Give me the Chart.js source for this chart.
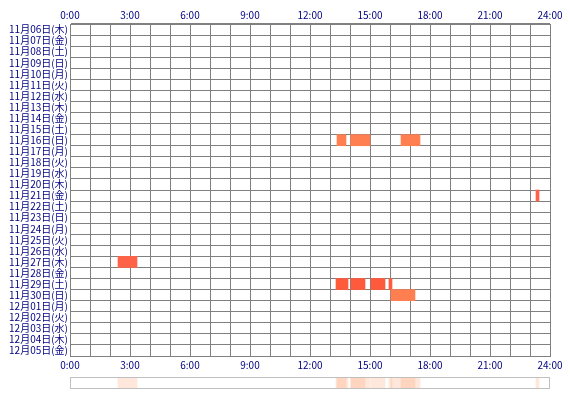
<!DOCTYPE html>
<html>
<head>
<meta charset="utf-8">
<script src="https://cdn.jsdelivr.net/npm/chart.js@4"></script>
<style>
  body { margin: 0; background: #fff; }
  #main { position: absolute; left: 0; top: 0; width: 570px; height: 372px; }
  #strip { position: absolute; left: 0; top: 372px; width: 570px; height: 24px; }
</style>
</head>
<body>
<div id="main"><canvas id="chart"></canvas></div>
<div id="strip"><canvas id="sum"></canvas></div>
<script>
// days shown on the y axis
const days = [
    '11月06日(木)', '11月07日(金)', '11月08日(土)', '11月09日(日)', '11月10日(月)',
    '11月11日(火)', '11月12日(水)', '11月13日(木)', '11月14日(金)', '11月15日(土)',
    '11月16日(日)', '11月17日(月)', '11月18日(火)', '11月19日(水)', '11月20日(木)',
    '11月21日(金)', '11月22日(土)', '11月23日(日)', '11月24日(月)', '11月25日(火)',
    '11月26日(水)', '11月27日(木)', '11月28日(金)', '11月29日(土)', '11月30日(日)',
    '12月01日(月)', '12月02日(火)', '12月03日(水)', '12月04日(木)', '12月05日(金)'
];

// activity sessions (hours of day)
const sessionDay   = ['11月16日(日)', '11月16日(日)', '11月16日(日)', '11月21日(金)', '11月27日(木)',
                      '11月29日(土)', '11月29日(土)', '11月29日(土)', '11月29日(土)', '11月30日(日)'];
const sessionStart = [13.35, 14.03, 16.55, 23.3, 2.4, 13.3, 14.05, 15.05, 15.95, 16.05];
const sessionEnd   = [13.8, 15.0, 17.5, 23.45, 3.35, 13.9, 14.75, 15.75, 16.1, 17.25];
const sessionColor = ['#ff7f50', '#ff7f50', '#ff7f50', '#ff6347', '#ff6347',
                      '#ff5a3c', '#ff5a3c', '#ff5a3c', '#ff5a3c', '#ff7f50'];

const hourTicks = ['0:00', '3:00', '6:00', '9:00', '12:00', '15:00', '18:00', '21:00', '24:00'];

const font = { family: "'Noto Sans CJK JP', sans-serif", size: 10 };
const hourLabel = v => (v % 3 === 0 ? hourTicks[v / 3] : '');

function hourAxis(position) {
    return {
        type: 'linear', position: position, min: 0, max: 24,
        ticks: { stepSize: 1, autoSkip: false, maxRotation: 0, color: '#000080', font: font, padding: 3, callback: hourLabel },
        grid: { color: '#808080', drawTicks: false, display: position === 'bottom' },
        border: { color: '#808080' },
        afterFit: s => { s.height = position === 'top' ? 18 : 16; }
    };
}

new Chart(document.getElementById('chart'), {
    type: 'bar',
    data: {
        labels: days,
        datasets: [{
            data: sessionDay.map((d, i) => ({ y: d, x: [sessionStart[i], sessionEnd[i]] })),
            backgroundColor: sessionColor,
            barPercentage: 1,
            categoryPercentage: 1
        }]
    },
    options: {
        indexAxis: 'y',
        responsive: true,
        maintainAspectRatio: false,
        animation: false,
        layout: { padding: { left: 4, right: 20, top: 6, bottom: 0 } },
        plugins: { legend: { display: false }, tooltip: { enabled: false } },
        scales: {
            x: hourAxis('bottom'),
            x2: hourAxis('top'),
            y: {
                ticks: { color: '#000080', font: font, padding: 2, autoSkip: false },
                grid: { color: '#808080', drawTicks: false },
                border: { color: '#808080' },
                afterFit: s => { s.width = 66; }
            }
        }
    }
});

// bottom strip: all sessions overlaid with low opacity
new Chart(document.getElementById('sum'), {
    type: 'bar',
    data: {
        labels: ['all'],
        datasets: sessionStart.map((s, i) => ({
            data: [[s, sessionEnd[i]]],
            backgroundColor: 'rgba(255,160,110,0.25)',
            barPercentage: 1,
            categoryPercentage: 1,
            grouped: false
        }))
    },
    options: {
        indexAxis: 'y',
        responsive: true,
        maintainAspectRatio: false,
        animation: false,
        layout: { padding: { left: 70, right: 20, top: 5, bottom: 7 } },
        plugins: { legend: { display: false }, tooltip: { enabled: false } },
        scales: {
            x: { min: 0, max: 24, display: false },
            y: { display: false }
        }
    },
    plugins: [{
        id: 'frame',
        afterDraw(c) {
            const a = c.chartArea, ctx = c.ctx;
            ctx.save();
            ctx.strokeStyle = '#c0c0c0';
            ctx.lineWidth = 1;
            ctx.strokeRect(a.left + 0.5, a.top + 0.5, a.width - 1, a.height - 1);
            ctx.restore();
        }
    }]
});
</script>
</body>
</html>
